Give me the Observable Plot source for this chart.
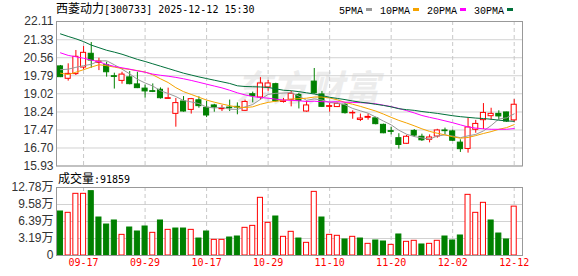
<!DOCTYPE html>
<html><head><meta charset="utf-8">
<script src="https://cdn.jsdelivr.net/npm/d3@7"></script>
<script src="https://cdn.jsdelivr.net/npm/@observablehq/plot@0.6"></script>
<style>
html,body{margin:0;padding:0;background:#fff;}
#wrap{position:relative;width:578px;height:276px;overflow:hidden;background:#fff;}
.abs{position:absolute;}
.cjk{font-family:"Noto Sans CJK SC",sans-serif;font-size:12px;}
.mono{font-family:"DejaVu Sans Mono",monospace;font-size:10px;}
.lg{font-family:"Liberation Mono",monospace;font-size:10px;color:#000;}
.box{display:inline-block;width:6px;height:3px;margin:0 8px 2px 3px;vertical-align:middle;}
</style></head><body>
<div id="wrap">
 <div id="price" class="abs" style="left:0;top:0"></div>
 <div id="vol" class="abs" style="left:0;top:170px"></div>
 <div id="title" class="abs" style="left:56px;top:0;line-height:15px;white-space:nowrap;color:#000"></div>
 <div id="legend" class="abs" style="left:339px;top:1px;line-height:15px;white-space:nowrap"></div>
 <div id="volcap" class="abs" style="left:58px;top:170px;line-height:15px;white-space:nowrap;color:#000"></div>
</div>
<script>
const titleText = "西菱动力[300733] 2025-12-12 15:30";
const volCaption = "成交量:91859";
const maNames = ["5PMA", "10PMA", "20PMA", "30PMA"];
const maColors = ["#999999", "#f5a300", "#ff00ff", "#00703a"];

const dates = ["09-12","09-15","09-16","09-17","09-18","09-19","09-22","09-23","09-24","09-25",
"09-26","09-29","09-30","10-09","10-10","10-13","10-14","10-15","10-16","10-17",
"10-20","10-21","10-22","10-23","10-24","10-27","10-28","10-29","10-30","10-31",
"11-03","11-04","11-05","11-06","11-07","11-10","11-11","11-12","11-13","11-14",
"11-17","11-18","11-19","11-20","11-21","11-24","11-25","11-26","11-27","11-28",
"12-01","12-02","12-03","12-04","12-05","12-08","12-09","12-10","12-11","12-12"];
const xTickIdx = [3, 11, 19, 27, 35, 43, 51, 59];

const open = [20.19,19.66,19.86,20.14,20.73,20.34,20.24,19.77,19.57,19.72,19.42,19.24,19.13,19.19,18.80,18.16,18.69,18.33,18.74,18.42,18.52,18.36,18.43,18.46,18.29,19.00,18.86,19.29,19.43,18.67,18.76,18.97,18.26,19.54,18.99,18.46,18.45,18.55,18.18,17.90,17.99,17.97,17.69,17.42,17.12,16.88,17.43,17.18,17.05,17.19,17.45,17.41,16.93,16.66,17.48,17.89,18.06,18.16,18.22,17.88];
const close = [19.73,19.87,20.60,20.77,20.44,20.40,19.94,19.74,19.84,19.43,19.26,19.12,19.10,18.83,18.83,18.62,18.26,18.79,18.49,18.09,18.43,18.39,18.40,18.43,18.67,18.92,19.46,19.46,18.70,18.72,19.02,18.72,18.52,19.04,18.46,18.49,18.59,18.19,18.20,17.96,18.03,17.72,17.33,17.39,16.83,17.18,17.23,17.03,17.15,17.45,17.42,17.01,16.65,17.58,17.73,18.20,18.16,18.05,17.83,18.55];
const high = [20.23,20.30,20.87,21.04,21.21,20.54,20.37,19.90,19.94,19.97,19.94,19.39,19.44,19.27,19.26,18.82,18.90,18.82,18.89,18.69,18.57,18.52,18.75,18.63,18.75,19.09,19.71,19.59,19.47,18.82,19.12,19.04,18.70,20.10,19.12,18.62,18.62,18.59,18.29,18.15,18.15,18.02,17.72,17.58,17.31,17.24,17.49,17.29,17.26,17.50,17.55,17.46,17.05,17.98,17.88,18.60,18.40,18.29,18.23,18.77];
const low = [19.71,19.56,19.80,20.04,20.11,20.01,19.73,19.22,19.43,19.40,19.24,18.83,19.07,18.79,18.79,17.59,18.23,18.15,18.40,18.00,18.23,18.26,18.26,18.12,18.26,18.63,18.75,19.12,18.66,18.62,18.46,18.37,18.23,19.00,18.43,18.23,18.43,18.15,17.93,17.83,17.89,17.69,17.31,17.26,16.65,16.86,17.15,16.98,16.92,17.12,17.26,16.98,16.51,16.48,17.33,17.49,17.88,17.89,17.80,17.80];

const ma5 = [20.05,20.07,20.15,20.22,20.28,20.42,20.43,20.26,20.07,19.87,19.64,19.48,19.35,19.15,19.03,18.90,18.73,18.67,18.60,18.45,18.41,18.44,18.36,18.35,18.46,18.56,18.78,18.99,19.04,19.05,19.07,18.92,18.74,18.80,18.75,18.65,18.62,18.55,18.39,18.29,18.19,18.02,17.85,17.69,17.46,17.29,17.19,17.13,17.08,17.21,17.26,17.21,17.14,17.22,17.28,17.43,17.66,17.94,17.99,18.16];
const ma10 = [19.90,19.84,19.94,20.05,20.16,20.26,20.22,20.16,20.10,20.06,20.01,19.95,19.83,19.66,19.50,19.28,19.11,18.99,18.87,18.75,18.66,18.58,18.51,18.45,18.43,18.46,18.57,18.65,18.70,18.74,18.79,18.81,18.83,18.88,18.88,18.84,18.76,18.65,18.57,18.48,18.38,18.28,18.15,18.01,17.88,17.77,17.65,17.52,17.41,17.33,17.26,17.18,17.12,17.15,17.23,17.32,17.40,17.50,17.57,17.70];
const ma20 = [20.77,20.66,20.60,20.54,20.46,20.39,20.27,20.19,20.13,20.07,20.00,19.94,19.86,19.81,19.77,19.72,19.66,19.59,19.51,19.43,19.35,19.27,19.17,19.06,18.97,18.90,18.86,18.83,18.79,18.75,18.74,18.72,18.69,18.70,18.68,18.67,18.68,18.66,18.65,18.64,18.62,18.59,18.53,18.47,18.39,18.30,18.20,18.09,18.01,17.94,17.86,17.78,17.69,17.60,17.55,17.52,17.50,17.50,17.50,17.53];
const ma30 = [21.58,21.47,21.37,21.25,21.10,20.99,20.88,20.80,20.71,20.60,20.49,20.40,20.30,20.20,20.10,20.00,19.90,19.82,19.74,19.67,19.60,19.53,19.46,19.36,19.33,19.32,19.31,19.29,19.23,19.17,19.15,19.11,19.06,19.01,18.94,18.87,18.82,18.77,18.71,18.66,18.62,18.57,18.52,18.46,18.38,18.34,18.31,18.26,18.22,18.18,18.13,18.08,18.04,18.01,17.98,17.96,17.93,17.89,17.86,17.84];

const volume = [82700,80200,115900,115900,120900,71400,58200,65800,38800,52600,45100,54500,42600,65800,48200,50700,50700,48200,31900,45100,29400,29400,33800,35700,52000,55700,108400,61400,73300,35100,44500,31900,23800,119600,71400,38800,37000,30100,35100,31900,21900,28200,26300,20000,39500,25700,27600,20700,21900,27600,35700,28200,37600,114000,80200,99000,65800,41300,30100,91859];
const volUp = [0,1,1,1,0,0,0,0,1,0,0,0,1,0,1,0,0,1,0,0,1,1,0,0,1,1,1,1,0,1,1,0,1,1,0,1,1,0,1,0,1,0,0,1,0,1,1,0,1,1,0,0,0,1,1,1,0,0,0,1];

const priceTicks = [15.93,16.70,17.47,18.24,19.02,19.79,20.56,21.33,22.11];
const priceTickLabels = ["15.93","16.70","17.47","18.24","19.02","19.79","20.56","21.33","22.11"];
const volTicks = [0,31950,63900,95850,127800];
const volTickLabels = ["0","3.19万","6.39万","9.58万","12.78万"];

const RED = "#ff0000", GREEN = "#008000";
const idx = d3.range(dates.length);
const xDomain = [-0.52, 60.08];
const hw = 0.33;
const baseStyle = {background: "transparent", fontFamily: "'Liberation Sans', Arial, 'Noto Sans CJK SC', sans-serif", fontSize: "12px", color: "#333", overflow: "visible"};
const priceLabel = new Map(priceTicks.map((t, i) => [t, priceTickLabels[i]]));
const volLabel = new Map(volTicks.map((t, i) => [t, volTickLabels[i]]));
const mas = [ma5, ma10, ma20, ma30];

const pricePlot = Plot.plot({
  width: 578, height: 170,
  marginTop: 21, marginBottom: 4.5, marginLeft: 56, marginRight: 56,
  style: baseStyle,
  color: {type: "identity"},
  x: {type: "linear", domain: xDomain, axis: null},
  y: {domain: [15.93, 22.11], ticks: priceTicks, tickFormat: d => priceLabel.get(d), tickSize: 0, tickPadding: 3, label: null},
  marks: [
    Plot.text(["东方财富"], {text: d => d, frameAnchor: "middle", dx: 18, dy: -4, fontSize: 36, fontWeight: "bold", fontStyle: "italic", fill: "#ececec", fontFamily: "Noto Sans CJK SC"}),
    Plot.ruleY(priceTicks, {y: d => d, stroke: "#d2d2d2"}),
    Plot.ruleX(xTickIdx, {x: d => d, stroke: "#c8c8c8", strokeDasharray: "4,3"}),
    Plot.ruleX(idx, {x: i => i, y1: i => low[i], y2: i => high[i], stroke: i => close[i] >= open[i] ? RED : GREEN}),
    Plot.rect(idx, {x1: i => i - hw, x2: i => i + hw, y1: i => open[i], y2: i => close[i],
      fill: i => close[i] >= open[i] ? "#ffffff" : GREEN, stroke: i => close[i] >= open[i] ? RED : GREEN}),
    ...mas.map((m, k) => Plot.line(idx, {x: i => i, y: i => m[i], stroke: maColors[k], strokeWidth: 1})),
    Plot.frame({stroke: "#999"})
  ]
});
document.getElementById("price").appendChild(pricePlot);

const volPlot = Plot.plot({
  width: 578, height: 106,
  marginTop: 17, marginBottom: 21, marginLeft: 56, marginRight: 56,
  style: baseStyle,
  color: {type: "identity"},
  x: {type: "linear", domain: xDomain, axis: null},
  y: {domain: [0, 127800], ticks: volTicks, tickFormat: d => volLabel.get(d), tickSize: 0, tickPadding: 3, label: null},
  marks: [
    Plot.ruleY(volTicks, {y: d => d, stroke: "#d2d2d2"}),
    Plot.ruleX(xTickIdx, {x: d => d, stroke: "#c8c8c8", strokeDasharray: "4,3"}),
    Plot.rect(idx, {x1: i => i - hw, x2: i => i + hw, y1: 0, y2: i => volume[i],
      fill: i => volUp[i] ? "#ffffff" : GREEN, stroke: i => volUp[i] ? RED : GREEN}),
    Plot.frame({stroke: "#999"}),
    Plot.text(xTickIdx, {x: d => d, text: d => dates[d], frameAnchor: "bottom", dy: 10, fill: RED, fontFamily: "DejaVu Sans Mono", fontSize: 10})
  ]
});
document.getElementById("vol").appendChild(volPlot);

function mixed(s) {
  return s.replace(/([\u3400-\u9fff]+)|([^\u3400-\u9fff]+)/g, (m, c, a) =>
    c ? `<span class="cjk">${c}</span>` : `<span class="mono">${a}</span>`);
}
document.getElementById("title").innerHTML = mixed(titleText);
document.getElementById("volcap").innerHTML = mixed(volCaption);
document.getElementById("legend").innerHTML = maNames.map((n, k) =>
  `<span class="lg">${n}</span><span class="box" style="background:${maColors[k]}"></span>`).join("");
</script>
</body></html>
